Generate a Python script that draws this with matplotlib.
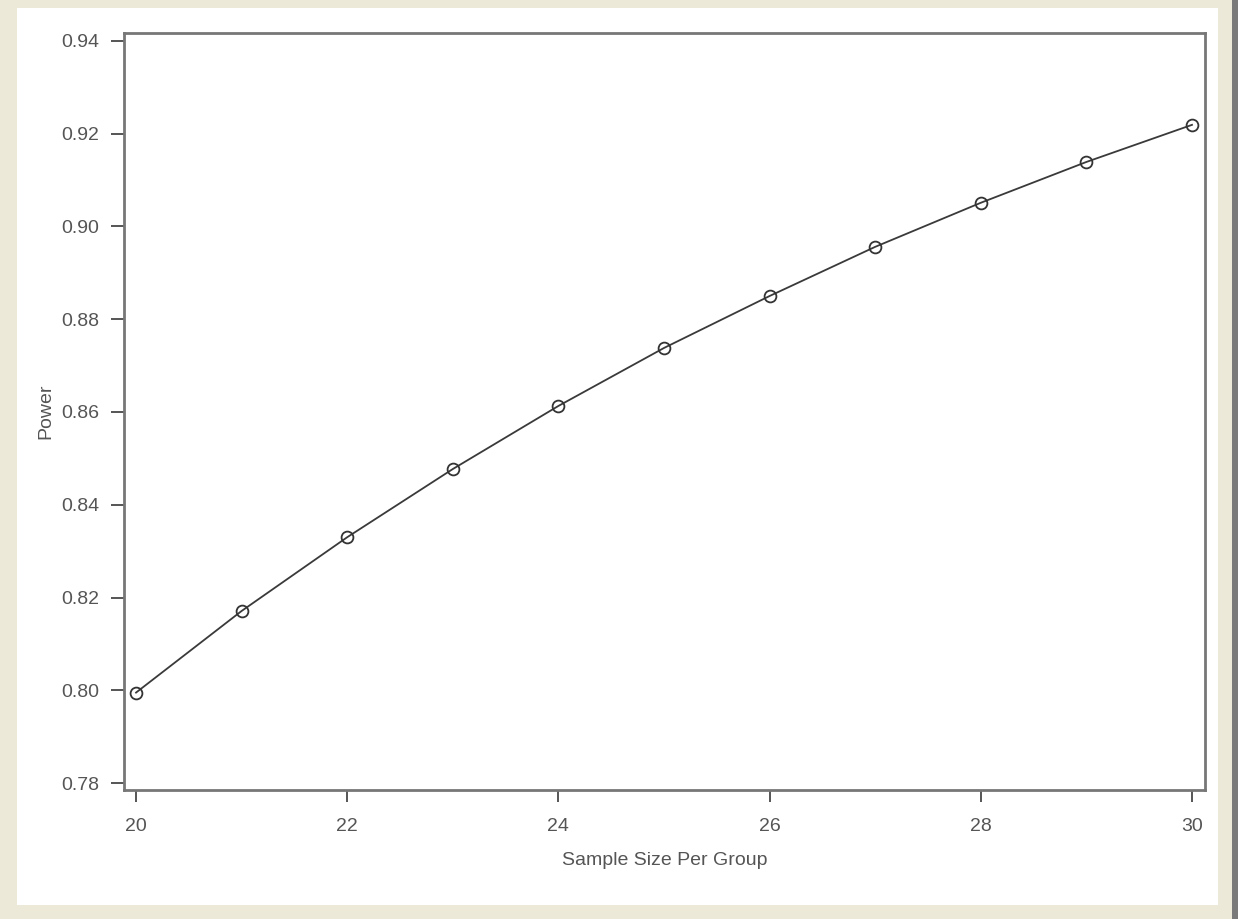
import matplotlib
matplotlib.use("Agg")
import matplotlib.pyplot as plt
from matplotlib.patches import Rectangle

sample_size = [20, 21, 22, 23, 24, 25, 26, 27, 28, 29, 30]
power = [0.7995, 0.8171, 0.8330, 0.8477, 0.8613, 0.8738, 0.8850, 0.8956, 0.9051, 0.9139, 0.9219]
x_ticks = [20, 22, 24, 26, 28, 30]
y_ticks = [0.78, 0.80, 0.82, 0.84, 0.86, 0.88, 0.90, 0.92, 0.94]

plt.rcParams['font.family'] = ['Liberation Sans', 'DejaVu Sans']

W, H = 1238, 919
fig = plt.figure(figsize=(W / 100, H / 100), dpi=100)
fig.patch.set_facecolor('#ECE9D8')
# white inner panel
fig.patches.append(Rectangle((17 / W, 1 - 905 / H), (1218 - 17) / W, (905 - 8) / H,
                             transform=fig.transFigure, facecolor='white', edgecolor='none', zorder=-10))
# dark right strip
fig.patches.append(Rectangle((1232 / W, 0), 6 / W, 1, transform=fig.transFigure,
                             facecolor='#7a7a7a', edgecolor='none', zorder=-10))

ax = fig.add_axes([124 / W, 1 - 790 / H, (1205 - 124) / W, (790 - 33) / H])
ax.set_zorder(5)
ax.set_facecolor('white')
ax.plot(sample_size, power, color='#3a3a3a', linewidth=1.3, marker='o', markersize=8.5,
        markerfacecolor='none', markeredgecolor='#333333', markeredgewidth=1.3)

ax.set_xlim(19.886, 30.123)
ax.set_ylim(0.7785, 0.9417)
ax.set_xticks(x_ticks)
ax.set_xticklabels([str(v) for v in x_ticks])
ax.set_yticks(y_ticks)
ax.set_yticklabels([f"{v:.2f}" for v in y_ticks])

for s in ax.spines.values():
    s.set_color('#777777')
    s.set_linewidth(2.0)

ax.tick_params(axis='both', direction='out', width=1.4, color='#555555',
               labelcolor='#555555', labelsize=14)
ax.tick_params(axis='x', length=8.5, pad=12)
ax.tick_params(axis='y', length=9.5, pad=8.5)

ax.set_xlabel('Sample Size Per Group', fontsize=14, color='#555555', labelpad=12)
ax.set_ylabel('Power', fontsize=14, color='#555555', labelpad=5)

fig.savefig('out.png', dpi=100, facecolor=fig.get_facecolor())
